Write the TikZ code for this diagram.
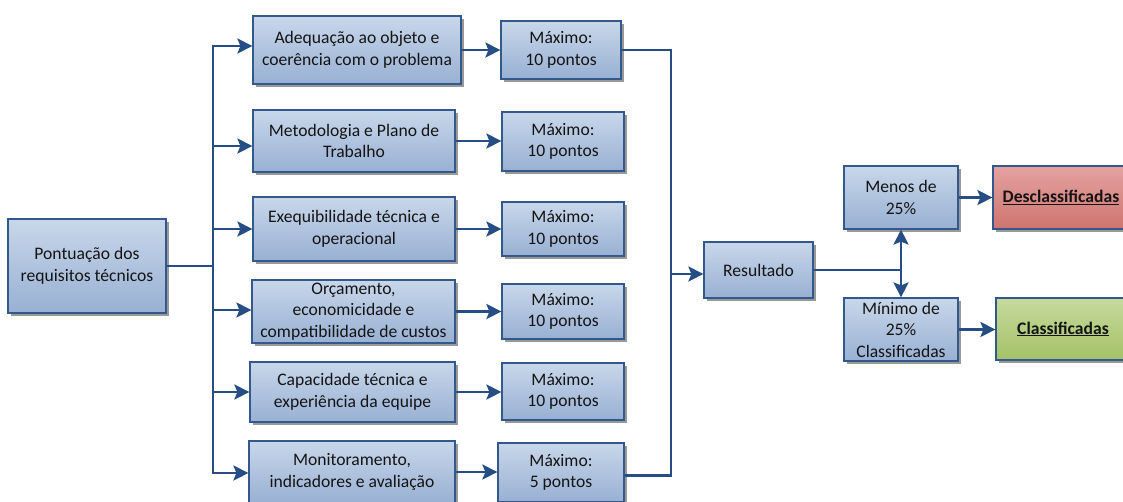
\documentclass[tikz,border=0pt]{standalone}
\usepackage{fontspec}
\setmainfont{Carlito}
\usetikzlibrary{arrows.meta,shadows}
\definecolor{linec}{RGB}{38,78,132}
\definecolor{bordc}{RGB}{50,88,140}
\definecolor{btop}{RGB}{200,215,234}
\definecolor{bbot}{RGB}{152,176,211}
\definecolor{rtop}{RGB}{228,162,160}
\definecolor{rbot}{RGB}{206,116,112}
\definecolor{gtop}{RGB}{198,217,156}
\definecolor{gbot}{RGB}{164,194,104}
\definecolor{txt}{RGB}{20,20,20}
\tikzset{
  box/.style={draw=bordc, line width=1.2pt, top color=btop, bottom color=bbot,
    inner sep=0pt, align=center, text=txt, font=\fontsize{17.6}{21.5}\selectfont,
    general shadow={fill=black!40, shadow xshift=3pt, shadow yshift=-3pt}},
  redbox/.style={box, top color=rtop, bottom color=rbot},
  greenbox/.style={box, top color=gtop, bottom color=gbot},
  conn/.style={draw=linec, line width=2.6pt},
  arr/.style={conn, -{Stealth[length=15pt,width=15pt,inset=3pt]}},
}
\begin{document}
\begin{tikzpicture}[x=1pt,y=-1pt]
\useasboundingbox (0,0) rectangle (1123,501);
% source
\node[box, minimum width=158pt, minimum height=94pt] (P) at (87,266) {Pontuação dos\\requisitos técnicos};
% criteria
\node[box, minimum width=208pt, minimum height=68pt] (A1) at (357,50) {Adequação ao objeto e\\coerência com o problema};
\node[box, minimum width=202pt, minimum height=62pt] (A2) at (354,141) {Metodologia e Plano de\\Trabalho};
\node[box, minimum width=202pt, minimum height=64pt] (A3) at (354,229) {Exequibilidade técnica e\\operacional};
\node[box, minimum width=203pt, minimum height=63pt] (A4) at (353.5,311.5) {Orçamento,\\economicidade e\\compatibilidade de custos};
\node[box, minimum width=205pt, minimum height=60pt] (A5) at (352.5,392) {Capacidade técnica e\\experiência da equipe};
\node[box, minimum width=206pt, minimum height=62pt] (A6) at (352,472) {Monitoramento,\\indicadores e avaliação};
% maxima
\node[box, minimum width=120pt, minimum height=58pt] (M1) at (561,50) {Máximo:\\10 pontos};
\node[box, minimum width=122pt, minimum height=59pt] (M2) at (563,141.5) {Máximo:\\10 pontos};
\node[box, minimum width=122pt, minimum height=54pt] (M3) at (563,229) {Máximo:\\10 pontos};
\node[box, minimum width=122pt, minimum height=55pt] (M4) at (563,311.5) {Máximo:\\10 pontos};
\node[box, minimum width=122pt, minimum height=57pt] (M5) at (563,391.5) {Máximo:\\10 pontos};
\node[box, minimum width=126pt, minimum height=59pt] (M6) at (561,472.5) {Máximo:\\5 pontos};
% result
\node[box, minimum width=109pt, minimum height=56pt] (R) at (758.5,270) {Resultado};
\node[box, minimum width=114pt, minimum height=63pt] (L) at (901,197.5) {Menos de\\25\%};
\node[box, minimum width=114pt, minimum height=63pt] (G) at (901,329.5) {Mínimo de\\25\%\\Classificadas};
\node[redbox, minimum width=136pt, minimum height=63pt] (D) at (1061,197.5) {\textbf{\underline{Desclassificadas}}};
\node[greenbox, minimum width=134pt, minimum height=62pt] (C) at (1063,329) {\textbf{\underline{Classificadas}}};
% left trunk
\coordinate (b1) at (213,46);
\coordinate (b2) at (213,146);
\coordinate (b3) at (213,229);
\coordinate (b4) at (213,310);
\coordinate (b5) at (213,392);
\coordinate (b6) at (213,473);
\draw[conn] (P.east) -- (P.east -| b1);
\draw[conn] ([yshift=1.3pt]b1) -- ([yshift=-1.3pt]b6);
\foreach \i in {1,...,6}{
  \draw[arr] (b\i) -- (b\i -| A\i.west);
  \draw[arr] (A\i.east) -- (A\i.east -| M\i.west);
}
% right collector
\coordinate (rc) at (671,0);
\coordinate (rin) at (671,274);
\draw[conn, line join=miter] (M1.east) -- (M1.east -| rc) -- ([yshift=-3pt]M6.east -| rc) -- ([yshift=-3pt]M6.east);
\draw[arr] (rin) -- (rin -| R.west);
% decision
\coordinate (fork) at (R.east -| L.south);
\draw[conn] (R.east) -- ([xshift=1.3pt]fork);
\draw[arr] (fork) -- (L.south);
\draw[arr] (fork) -- (G.north);
\draw[arr] (L.east) -- (L.east -| D.west);
\draw[arr] (G.east) -- (G.east -| C.west);
\end{tikzpicture}
\end{document}
